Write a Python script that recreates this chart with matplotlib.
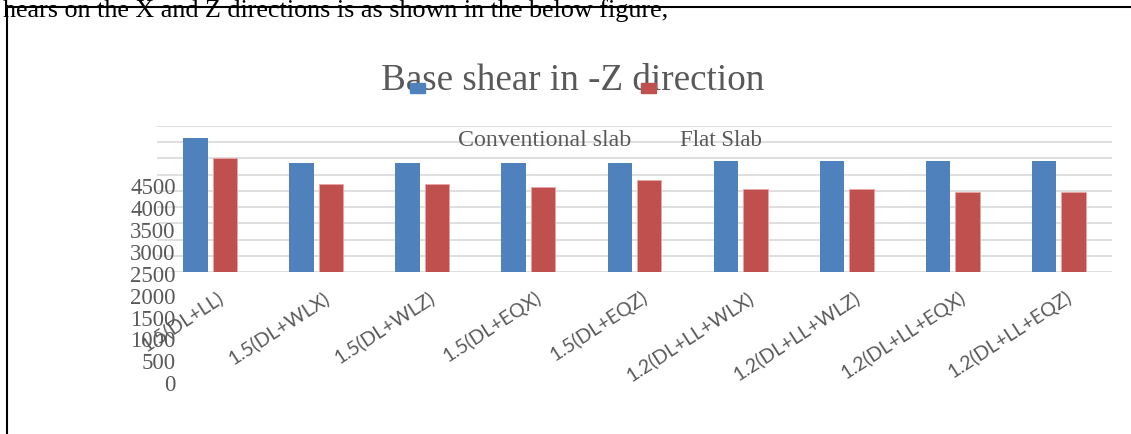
import numpy as np
import matplotlib
matplotlib.use('Agg')
import matplotlib.pyplot as plt
from matplotlib.lines import Line2D
from matplotlib.patches import Rectangle
from matplotlib.transforms import ScaledTranslation

categories = ['1.5(DL+LL)', '1.5(DL+WLX)', '1.5(DL+WLZ)', '1.5(DL+EQX)', '1.5(DL+EQZ)',
              '1.2(DL+LL+WLX)', '1.2(DL+LL+WLZ)', '1.2(DL+LL+EQX)', '1.2(DL+LL+EQZ)']
conventional = [4120, 3355, 3355, 3355, 3355, 3415, 3415, 3415, 3415]
flat = [3510, 2710, 2710, 2615, 2840, 2565, 2565, 2470, 2470]
y_ticks = [0, 500, 1000, 1500, 2000, 2500, 3000, 3500, 4000, 4500]

W, H = 1131, 434
blue = '#4f81bd'
red = '#c0504d'
grey = '#595959'
serif = 'Liberation Serif'

fig = plt.figure(figsize=(W / 100, H / 100), dpi=100)

def fx(px):
    return px / W

def fy(py):
    return 1 - py / H

# main plot area
ax = fig.add_axes([fx(157), fy(272), fx(1112) - fx(157), fy(126) - fy(272)])
x = np.arange(len(categories))
bw = 0.23
off = 0.139
ax.bar(x - off, conventional, bw, color=blue, zorder=3)
ax.bar(x + off, flat, bw, color=red, edgecolor='#e6a8a6', linewidth=0.6, zorder=3)
ax.set_xlim(-0.5, len(categories) - 0.5)
ax.set_ylim(0, 4500)
ax.set_yticks(y_ticks)
ax.yaxis.grid(True, color='#d9d9d9', linewidth=1.2, zorder=0)
ax.tick_params(axis='y', length=0, labelleft=False)
for s in ax.spines.values():
    s.set_visible(False)
ax.set_xticks(x)
ax.set_xticklabels(categories, rotation=33, ha='right', rotation_mode='anchor',
                   family='Lato', fontsize=14, color=grey)
ax.tick_params(axis='x', length=0, pad=17)
shift = ScaledTranslation(0.11, 0, fig.dpi_scale_trans)
for lbl in ax.get_xticklabels():
    lbl.set_va('center')
    lbl.set_transform(lbl.get_transform() + shift)

# y labels drawn off-set from the grid (as in the source)
ax2 = fig.add_axes([fx(180), fy(383), fx(10), fy(186.5) - fy(383)])
ax2.set_ylim(0, 4500)
ax2.set_yticks(y_ticks)
ax2.set_yticklabels([str(v) for v in y_ticks], family=serif, fontsize=16.5, color=grey)
ax2.tick_params(axis='y', length=0, pad=3)
ax2.set_xticks([])
ax2.patch.set_visible(False)
for s in ax2.spines.values():
    s.set_visible(False)

# title and legend
fig.text(fx(573), fy(89.5), 'Base shear in -Z direction', ha='center', va='baseline',
         family=serif, fontsize=26.7, color=grey)
fig.patches.append(Rectangle((fx(410), fy(93)), fx(15), fy(83) - fy(93),
                             transform=fig.transFigure, color=blue, zorder=5))
fig.patches.append(Rectangle((fx(641), fy(93)), fx(15), fy(83) - fy(93),
                             transform=fig.transFigure, color=red, zorder=5))
fig.text(fx(458), fy(146.5), 'Conventional slab', ha='left', va='baseline',
         family=serif, fontsize=17.2, color=grey)
fig.text(fx(680), fy(146.5), 'Flat Slab', ha='left', va='baseline',
         family=serif, fontsize=16.5, color=grey)

# page text and frame
fig.text(fx(668), fy(17.5), 'hears on the X and Z directions is as shown in the below figure,',
         ha='right', va='baseline', family=serif, fontsize=18.8, color='black')
fig.add_artist(Line2D([fx(6), fx(1130)], [fy(6.5), fy(6.5)], color='black', lw=1.5,
                      transform=fig.transFigure))
fig.add_artist(Line2D([fx(6.5), fx(6.5)], [fy(6), fy(434)], color='black', lw=1.5,
                      transform=fig.transFigure))

fig.savefig('out.png', dpi=100)
